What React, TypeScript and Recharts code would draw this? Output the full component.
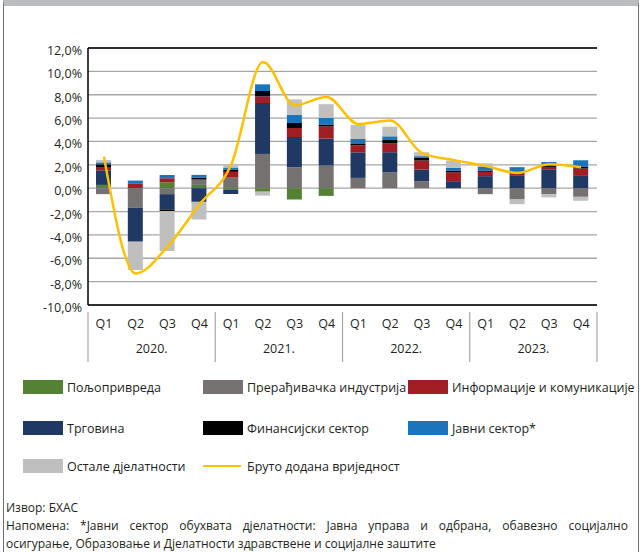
import React from "react";
import {
  ComposedChart,
  Bar,
  Line,
  XAxis,
  YAxis,
  CartesianGrid,
  ReferenceLine,
} from "recharts";

// categories
const years = ["2020.", "2021.", "2022.", "2023."];
const quarterLabels = ["Q1", "Q2", "Q3", "Q4"];

// contributions to growth, percentage points (Q1 2020 .. Q4 2023)
const agriculture = [0.28, 0, 0.51, 0.28, -0.15, -0.3, -0.97, -0.66, 0, 0, 0, 0, 0, 0, 0, 0];
const manufacturing = [-0.51, -1.68, -0.51, 0.46, 0.9, 2.93, 1.79, 1.94, 0.88, 1.37, 0.6, 0, -0.51, -0.97, -0.51, -0.74];
const trade = [1.25, -2.9, -1.31, -1.17, -0.35, 4.36, 2.59, 2.31, 2.19, 1.71, 1.0, 0.6, 1.03, 1.11, 1.62, 1.05];
const information = [0.23, 0.37, 0.34, 0, 0.5, 0.57, 0.77, 1.03, 0.6, 0.77, 0.77, 0.77, 0.37, 0.29, 0.2, 0.63];
const finance = [0.28, 0, -0.14, 0.17, 0.2, 0.46, 0.43, 0.17, 0.11, 0.28, 0.26, 0.14, 0.11, 0.03, 0.14, 0.14];
const publicSector = [0.17, 0.28, 0.28, 0.23, 0.17, 0.57, 0.71, 0.57, 0.43, 0.31, 0.11, 0.23, 0.34, 0.37, 0.28, 0.57];
const other = [0.2, -2.42, -3.42, -1.51, 0.2, -0.34, 1.31, 1.17, 1.2, 0.83, 0.34, 0.63, 0.28, -0.4, -0.28, -0.34];
const grossValueAdded = [2.7, -7.3, -5.0, -1.4, 2.0, 10.8, 7.1, 7.8, 5.5, 5.8, 3.0, 2.4, 1.9, 1.3, 2.05, 1.8];

const yTicks = [-10, -8, -6, -4, -2, 0, 2, 4, 6, 8, 10, 12];

const FONT = "'Open Sans', sans-serif";
const TEXT = "#231f20";

const series = [
  { key: "agriculture", name: "Пољопривреда", color: "#548235", values: agriculture },
  { key: "manufacturing", name: "Прерађивачка индустрија", color: "#767171", values: manufacturing },
  { key: "trade", name: "Трговина", color: "#1f3864", values: trade },
  { key: "information", name: "Информације и комуникације", color: "#a01d24", values: information },
  { key: "finance", name: "Финансијски сектор", color: "#000000", values: finance },
  { key: "publicSector", name: "Јавни сектор*", color: "#1b75bc", values: publicSector },
  { key: "other", name: "Остале дјелатности", color: "#bfbfbf", values: other },
];

const data = years.flatMap((year, yi) =>
  quarterLabels.map((q, qi) => {
    const i = yi * 4 + qi;
    const row: Record<string, any> = { key: `${year} ${q}`, q, year, gva: grossValueAdded[i] };
    series.forEach((s) => (row[s.key] = s.values[i]));
    return row;
  })
);

const CHART_W = 644;
const CHART_H = 362;
const MARGIN = { top: 48, right: 47, bottom: 4, left: 0 };
const Y_AXIS_W = 88;
const X_AXIS_H = 53;
const BAND = (CHART_W - MARGIN.right - Y_AXIS_W) / data.length;

function QuarterTick({ x, y, payload, index }: any) {
  const row = data[index];
  const axisY = y - 1;
  const sep = "#a6a6a6";
  return (
    <g>
      <text x={x} y={axisY + 16} textAnchor="middle" fill={TEXT} fontSize={12.5} fontFamily={FONT}>
        {row ? row.q : payload.value}
      </text>
      {index % 4 === 0 && (
        <>
          <line x1={x - BAND / 2} x2={x - BAND / 2} y1={axisY} y2={axisY + 51} stroke={sep} strokeWidth={1.2} />
          <text x={x + BAND * 1.5} y={axisY + 41} textAnchor="middle" fill={TEXT} fontSize={12.5} fontFamily={FONT}>
            {row.year}
          </text>
        </>
      )}
      {index === data.length - 1 && (
        <line x1={x + BAND / 2} x2={x + BAND / 2} y1={axisY} y2={axisY + 51} stroke={sep} strokeWidth={1.2} />
      )}
    </g>
  );
}

function PercentTick({ y, payload }: any) {
  return (
    <text x={82} y={y + 7} textAnchor="end" fill={TEXT} fontSize={12.5} fontFamily={FONT}>
      {payload.value.toFixed(1).replace(".", ",")}%
    </text>
  );
}

const legendRows = [
  [series[0], series[1], series[3]],
  [series[2], series[4], series[5]],
  [series[6], null],
];
const legendCols = [23, 203, 408];
const legendRowY = [387, 428, 466];

function Legend() {
  return (
    <>
      {legendRows.map((row, ri) =>
        row.map((s, ci) => {
          const left = legendCols[ci];
          const top = legendRowY[ri];
          const isLine = s === null;
          return (
            <div
              key={`${ri}-${ci}`}
              style={{ position: "absolute", left, top: top - 9, height: 18, display: "flex", alignItems: "center" }}
            >
              {isLine ? (
                <div style={{ width: 40, height: 14, display: "flex", alignItems: "center" }}>
                  <div style={{ width: 38, height: 2.5, background: "#ffc000" }} />
                </div>
              ) : (
                <div style={{ width: 40, height: 14, background: s.color }} />
              )}
              <span style={{ marginLeft: 4, fontSize: 12.5, color: TEXT, whiteSpace: "nowrap" }}>
                {isLine ? "Бруто додана вриједност" : s.name}
              </span>
            </div>
          );
        })
      )}
    </>
  );
}

export default function App() {
  return (
    <div style={{ position: "relative", width: 644, height: 552, fontFamily: FONT, background: "#fff", overflow: "hidden" }}>
      <style>{`body{margin:0}`}</style>
      <div
        style={{
          position: "absolute",
          left: 3,
          top: 0,
          width: 636,
          height: 552,
          boxSizing: "border-box",
          borderLeft: "1.5px solid #6d6e71",
          borderRight: "1.5px solid #6d6e71",
          borderTop: "6px solid #bbbcc0",
        }}
      />
      <div style={{ position: "absolute", left: 0, top: 0 }}>
        <ComposedChart
          width={CHART_W}
          height={CHART_H}
          data={data}
          margin={MARGIN}
          stackOffset="sign"
          barSize={15}
        >
          <CartesianGrid horizontal vertical={false} stroke="#a6a6a6" strokeWidth={1.3} />
          <XAxis
            dataKey="key"
            height={X_AXIS_H}
            interval={0}
            tickLine={false}
            axisLine={{ stroke: "#000", strokeWidth: 1.5 }}
            tick={<QuarterTick />}
          />
          <YAxis
            width={Y_AXIS_W}
            domain={[-10, 12]}
            ticks={yTicks}
            interval={0}
            tickLine={false}
            axisLine={{ stroke: "#000", strokeWidth: 1.5 }}
            tick={<PercentTick />}
          />
          <YAxis
            yAxisId="frame"
            orientation="right"
            width={0}
            domain={[-10, 12]}
            tick={false}
            tickLine={false}
            axisLine={{ stroke: "#000", strokeWidth: 1.5 }}
          />
          <ReferenceLine y={12} stroke="#000" strokeWidth={1.5} />
          {series.map((s) => (
            <Bar key={s.key} dataKey={s.key} name={s.name} stackId="a" fill={s.color} isAnimationActive={false} />
          ))}
          <Line
            dataKey="gva"
            name="Бруто додана вриједност"
            type="monotone"
            stroke="#ffc000"
            strokeWidth={2.5}
            dot={false}
            isAnimationActive={false}
          />
        </ComposedChart>
      </div>
      <Legend />
      <div style={{ position: "absolute", left: 6, top: 499, width: 622, fontSize: 12, color: TEXT, lineHeight: "18px" }}>
        <div>Извор: БХАС</div>
        <div style={{ whiteSpace: "nowrap", display: "flex", justifyContent: "space-between" }}>
          {"Напомена: *Јавни сектор обухвата дјелатности: Јавна управа и одбрана, обавезно социјално"
            .split(" ")
            .map((w, i) => (
              <span key={i}>{w}</span>
            ))}
        </div>
        <div>осигурање, Образовање и Дјелатности здравствене и социјалне заштите</div>
      </div>
    </div>
  );
}
